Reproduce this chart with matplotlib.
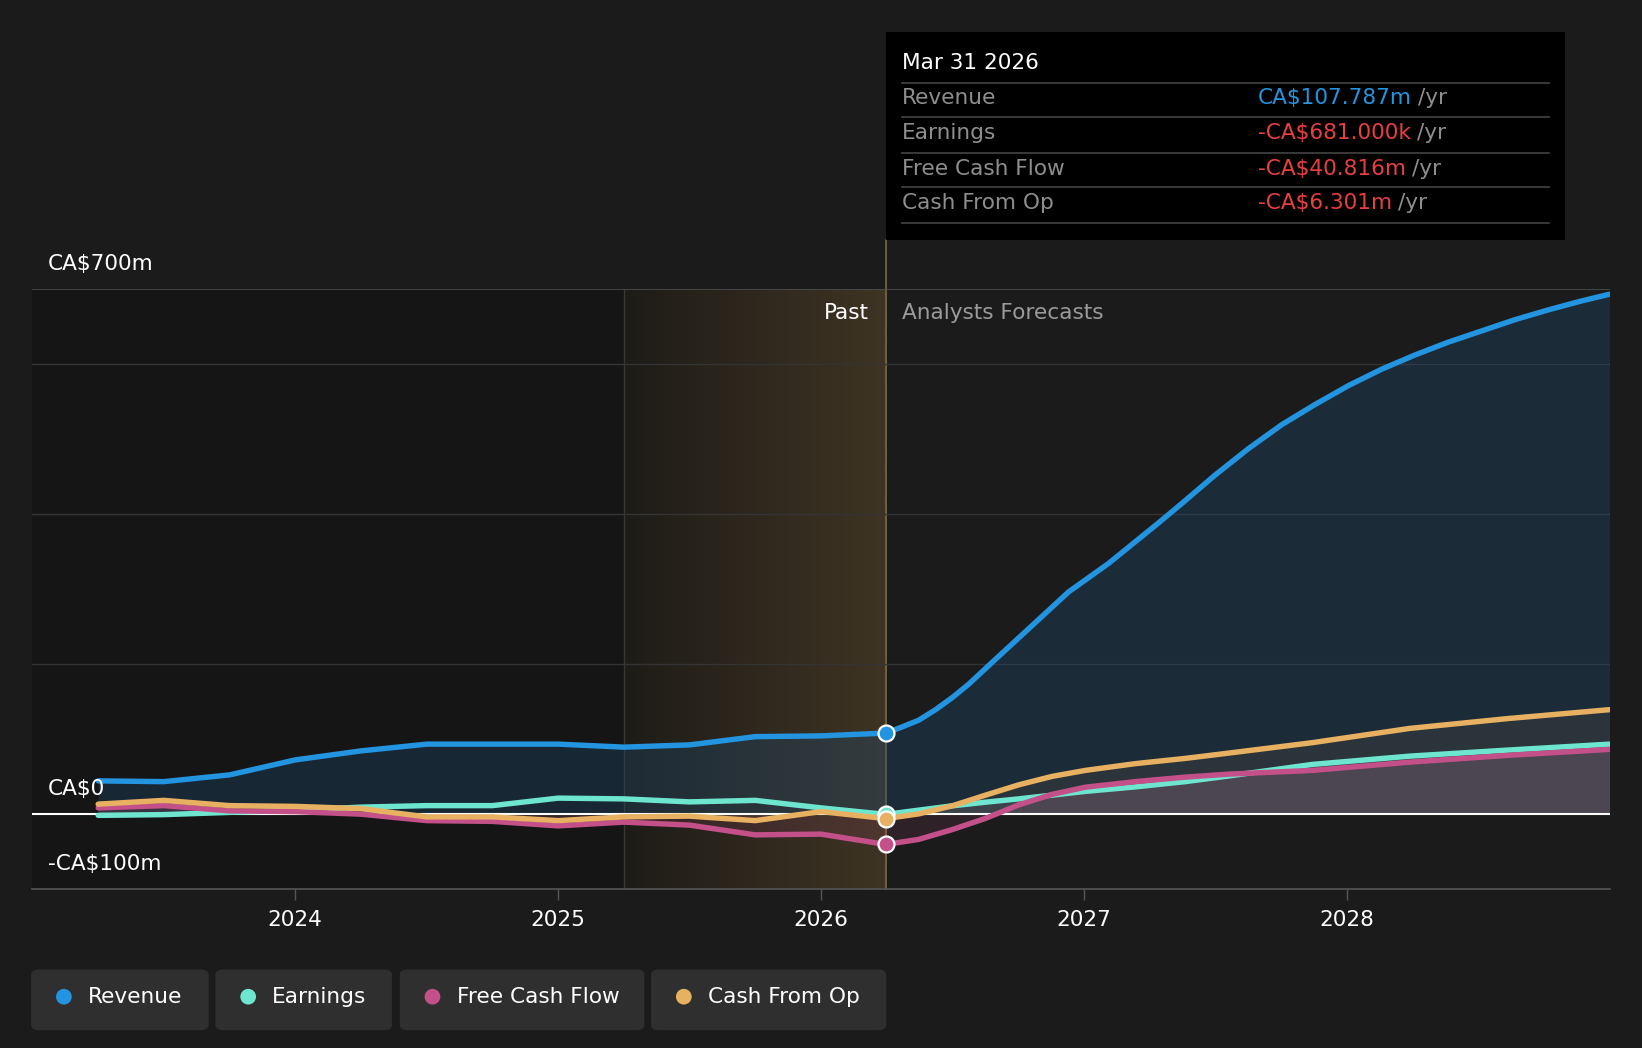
import numpy as np
import matplotlib
matplotlib.use("Agg")
import matplotlib.pyplot as plt
import matplotlib.patches as mpatches
from matplotlib.colors import LinearSegmentedColormap

# data (CA$ m)
past_years = [2023.25, 2023.5, 2023.75, 2024.0, 2024.25, 2024.5, 2024.75,
              2025.0, 2025.25, 2025.5, 2025.75, 2026.0, 2026.247]
rev_past = [44, 43, 52, 72, 84, 93, 93, 93, 89, 92, 103, 104, 107.787]
earn_past = [-2, -1, 2, 5, 9, 11, 11, 21, 20, 16, 18, 8, -0.681]
fcf_past = [8, 11, 4, 3, -0.4, -9, -10, -16, -11, -15, -28, -27, -40.816]
cfo_past = [13, 18, 11, 10, 7, -4, -4, -9, -4, -3, -9, 3, -6.301]

# revenue forecast is read more densely (it bends a lot)
rev_fc_years = [2026.247, 2026.309, 2026.372, 2026.436, 2026.499, 2026.562, 2026.651,
                2026.778, 2026.942, 2027.094, 2027.284, 2027.373, 2027.5, 2027.626,
                2027.753, 2027.88, 2028.006, 2028.133, 2028.26, 2028.386, 2028.513,
                2028.64, 2028.766, 2028.893, 2029.0]
rev_fc = [107.787, 116, 125, 139, 155, 173, 202, 243, 296, 334, 388, 414, 452, 487,
          519, 546, 571, 593, 612, 629, 644, 659, 672, 684, 693]

fc_years = [2026.247, 2026.372, 2026.499, 2026.626, 2026.752, 2026.879, 2027.006,
            2027.196, 2027.386, 2027.55, 2027.87, 2028.24, 2028.61, 2029.0]
earn_fc = [-0.681, 5, 10.7, 15.6, 20, 25, 30, 36, 43, 50.5, 66, 77, 85, 93]
fcf_fc = [-40.816, -34, -21, -6, 12, 26, 35.6, 43, 49, 53, 58, 69, 78, 86]
cfo_fc = [-6.301, 0, 10.7, 25, 38.7, 50, 58, 67, 74, 81, 95, 114, 127, 139]

series_names = ["Revenue", "Earnings", "Free Cash Flow", "Cash From Op"]
series_colors = ["#2394df", "#6ee6cf", "#c4508a", "#e8b061"]
tooltip_values = ["CA$107.787m", "-CA$681.000k", "-CA$40.816m", "-CA$6.301m"]
year_ticks = [2024, 2025, 2026, 2027, 2028]
y_labels = {700: "CA$700m", 0: "CA$0", -100: "-CA$100m"}

past_start = 2025.25
today = 2026.247

BG = "#1b1b1b"
W, H = 1568.0, 1001.0
FS = 15.6


def fx(x):
    return x / W


def fy(y):
    return 1 - y / H


fig = plt.figure(figsize=(16.42, 10.48), dpi=100, facecolor=BG)
ax = fig.add_axes([fx(31), fy(849), (1537 - 31) / W, (849 - 276) / H])
ax.set_facecolor(BG)
ax.set_xlim(2023.0, 2029.0)
ax.set_ylim(-100, 700)

# background regions
ax.axvspan(2023.0, past_start, color="#151515", zorder=0, lw=0)
cmap = LinearSegmentedColormap.from_list("past", ["#1e1c18", "#3f3423"])
grad = np.linspace(0, 1, 256).reshape(1, -1)
ax.imshow(grad, cmap=cmap, aspect="auto", extent=[past_start, today, -100, 700], zorder=0.5)
ax.axvline(past_start, color="#3a372e", lw=1, zorder=1)
ax.plot([today, today], [-100, 700 + 47 / 0.716], color="#7a6a40", lw=1.2,
        zorder=1, clip_on=False)

for g in [200, 400, 600]:
    ax.axhline(g, color="#343434", lw=1, zorder=1)
ax.axhline(700, color="#4d4d4d", lw=1.2, zorder=1)

rev_x = past_years + rev_fc_years[1:]
rev = rev_past + rev_fc[1:]
oth_x = past_years + fc_years[1:]
earn = earn_past + earn_fc[1:]
fcf = fcf_past + fcf_fc[1:]
cfo = cfo_past + cfo_fc[1:]

# fills
ax.fill_between(rev_x, rev, 0, color="#1f4a70", alpha=0.35, lw=0, zorder=2)
ax.fill_between(oth_x, cfo, 0, color="#e8b061", alpha=0.07, lw=0, zorder=2)
ax.fill_between(oth_x, fcf, 0, color="#c4508a", alpha=0.12, lw=0, zorder=2)
ax.fill_between(fc_years, earn_fc, 0, color="#ffffff", alpha=0.08, lw=0, zorder=2)

ax.axhline(0, color="white", lw=1.5, zorder=3)

lines = [(rev_x, rev), (oth_x, earn), (oth_x, fcf), (oth_x, cfo)]
ends = [rev_fc[0], earn_fc[0], fcf_fc[0], cfo_fc[0]]
for (xs, vals), col in zip(lines, series_colors):
    ax.plot(xs, vals, color=col, lw=3.9, solid_capstyle="round",
            solid_joinstyle="round", zorder=4)
for v, col in zip(ends, series_colors):
    ax.plot([today], [v], "o", ms=11.5, mfc=col, mec="white", mew=1.6, zorder=6)

# axes styling
for s in ["top", "right", "left"]:
    ax.spines[s].set_visible(False)
ax.spines["bottom"].set_color("#555555")
ax.spines["bottom"].set_linewidth(1.2)
ax.set_yticks([])
ax.set_xticks(year_ticks)
ax.set_xticklabels([str(y) for y in year_ticks])
ax.tick_params(axis="x", colors="#555555", length=8, width=1, labelcolor="white",
               labelsize=FS, pad=7)

for v, lab in y_labels.items():
    ax.text(2023.06, v + 33, lab, color="white", fontsize=FS,
            va="center", ha="left", zorder=7)

ax.text(today - 0.065, 668, "Past", color="white", fontsize=FS, ha="right", va="center", zorder=7)
ax.text(today + 0.06, 668, "Analysts Forecasts", color="#9a9a9a", fontsize=FS,
        ha="left", va="center", zorder=7)

# tooltip box
fig.add_artist(mpatches.Rectangle((fx(846), fy(229)), (1494 - 846) / W, (229 - 31) / H,
                                  transform=fig.transFigure, facecolor="black", lw=0))
fig.text(fx(861), fy(60), "Mar 31 2026", color="white", fontsize=FS, va="center")
for ly in [79, 112, 146, 179, 213]:
    fig.add_artist(plt.Line2D([fx(861), fx(1479)], [fy(ly), fy(ly)], color="#444444",
                              lw=1.2, transform=fig.transFigure))
row_y = [94, 127, 161, 194]
renderer = fig.canvas.get_renderer()
for i in range(4):
    fig.text(fx(861), fy(row_y[i]), series_names[i], color="#8e8e8e", fontsize=FS,
             va="center")
    vcol = "#2394df" if i == 0 else "#e8403f"
    t = fig.text(fx(1201), fy(row_y[i]), tooltip_values[i], color=vcol, fontsize=FS,
                 va="center")
    bb = t.get_window_extent(renderer=renderer)
    x_end = bb.x1 / fig.bbox.width
    fig.text(x_end + 6 / W, fy(row_y[i]), "/yr", color="#8e8e8e", fontsize=FS,
             va="center")

# legend buttons
boxes = [(31, 198), (207, 373), (383, 614), (623, 845)]
for (x0, x1), name, col in zip(boxes, series_names, series_colors):
    fig.add_artist(mpatches.FancyBboxPatch(
        (fx(x0 + 5), fy(985 - 5)), (x1 - x0 - 10) / W, (985 - 925 - 10) / H,
        boxstyle="round,pad=0.004,rounding_size=0.005", transform=fig.transFigure,
        facecolor="#2f2f2f", lw=0))
    fig.add_artist(mpatches.Ellipse((fx(x0 + 30), fy(952)), 15 / W, 15 / H,
                                    transform=fig.transFigure, facecolor=col, lw=0))
    fig.text(fx(x0 + 53), fy(952), name, color="white", fontsize=FS, va="center")

fig.savefig("out.png", dpi=100, facecolor=BG)
